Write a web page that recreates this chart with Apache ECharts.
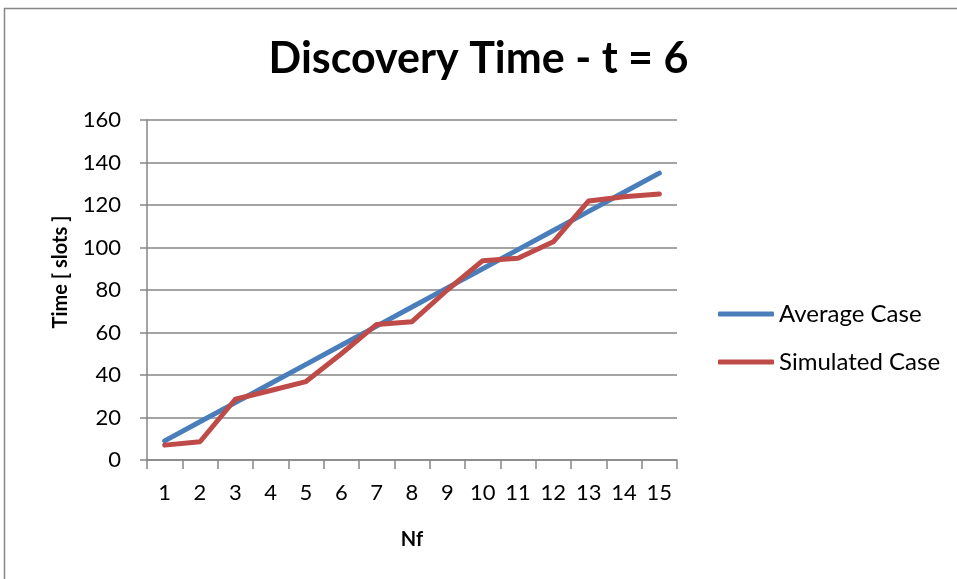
<!DOCTYPE html>
<html><head><meta charset="utf-8">
<script src="https://cdn.jsdelivr.net/npm/echarts@6/dist/echarts.min.js"></script>
<style>html,body{margin:0;padding:0;background:#fff}#c{width:957px;height:579px}</style>
</head><body><div id="c"></div>
<script>
const categories = ['1','2','3','4','5','6','7','8','9','10','11','12','13','14','15'];
const averageCase = [9,18,27,36,45,54,63,72,81,90,99,108,117,126,135];
const simulatedCase = [7,8.6,28.6,32.7,36.9,50,63.8,65.1,80,93.8,94.9,102.7,121.9,123.9,125.2];
const yTicks = {min:0, max:160, interval:20};
const FONT = 'Lato, "Open Sans", sans-serif';
const chart = echarts.init(document.getElementById('c'));
chart.setOption({
  animation:false,
  backgroundColor:'#fff',
  graphic:[{type:'rect', shape:{x:4.5,y:8.5,width:1000,height:1000}, style:{fill:'none', stroke:'#868686', lineWidth:1.5}, silent:true}],
  title:{text:'Discovery Time - t = 6', left:'center', top:38, textStyle:{fontFamily:FONT, fontSize:43, fontWeight:'bold', color:'#000'}, padding:0},
  legend:{orient:'vertical', left:713, top:297, itemWidth:56, itemHeight:5, itemGap:24, icon:'roundRect',
    textStyle:{fontFamily:FONT, fontSize:24, lineHeight:24, color:'#000'}, data:['Average Case','Simulated Case']},
  grid:{left:147, right:280, top:120, bottom:119, containLabel:false},
  xAxis:{type:'category', data:categories, boundaryGap:true, name:'Nf', nameLocation:'middle', nameGap:70,
    nameTextStyle:{fontFamily:FONT, fontSize:20, fontWeight:'bold', color:'#000'},
    axisLine:{lineStyle:{color:'#868686', width:1.5}}, axisTick:{show:true, length:9, lineStyle:{color:'#868686', width:1.5}, alignWithLabel:false},
    axisLabel:{fontFamily:FONT, fontSize:22, color:'#000', margin:22, interval:0}},
  yAxis:{type:'value', min:yTicks.min, max:yTicks.max, interval:yTicks.interval, name:'Time [ slots ]', nameLocation:'middle', nameGap:76, nameRotate:90,
    nameTextStyle:{fontFamily:FONT, fontSize:20, fontWeight:'bold', color:'#000', padding:[0,0,0,36]},
    axisLine:{show:true, lineStyle:{color:'#868686', width:1.5}}, axisTick:{show:true, length:7, lineStyle:{color:'#868686', width:1.5}},
    splitLine:{lineStyle:{color:'#868686', width:1.5}},
    axisLabel:{fontFamily:FONT, fontSize:22, color:'#000', margin:26}},
  series:[
    {name:'Average Case', type:'line', data:averageCase, symbol:'none', lineStyle:{color:'#4A7EBB', width:5, cap:'round'}, itemStyle:{color:'#4A7EBB'}},
    {name:'Simulated Case', type:'line', data:simulatedCase, symbol:'none', lineStyle:{color:'#BE4B48', width:5, cap:'round', join:'round'}, itemStyle:{color:'#BE4B48'}}
  ]
});
</script></body></html>
